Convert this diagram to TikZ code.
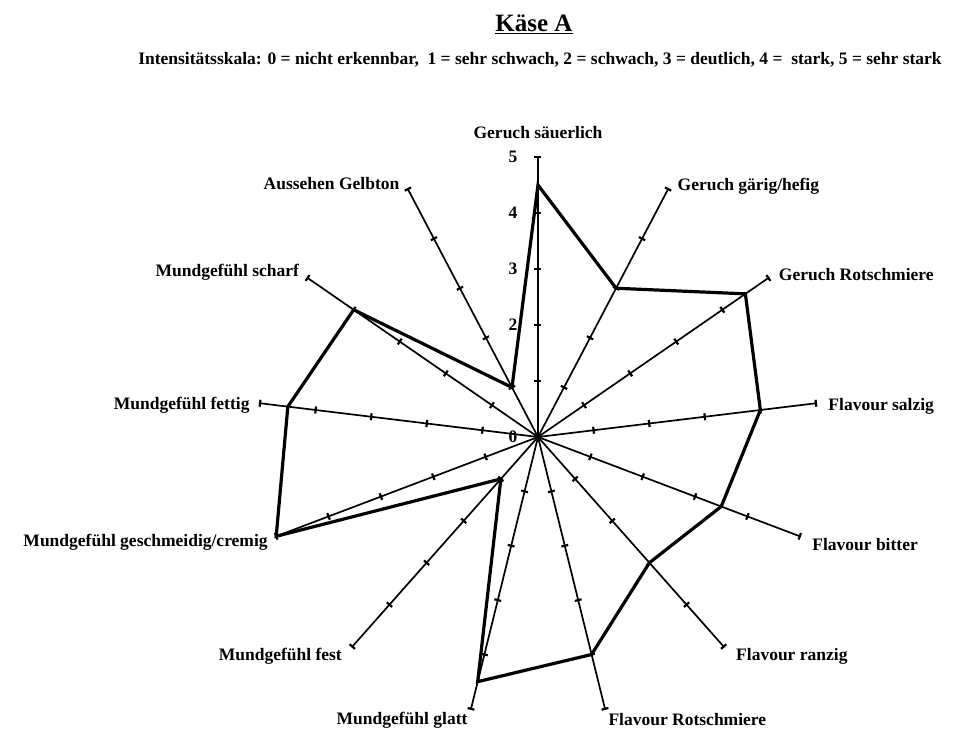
\documentclass[tikz,border=0pt]{standalone}
\usepackage{fontspec}
\setmainfont{Liberation Serif}

\begin{document}
\begin{tikzpicture}[x=1pt,y=1pt,font=\bfseries]
\def\unit{56}
\def\dang{27.6923}
\def\lblfont{\fontsize{17.5}{19}\selectfont\bfseries}
\useasboundingbox (-538,-294) rectangle (415,437);

\node[anchor=base,font=\fontsize{25}{28}\selectfont\bfseries] (title) at (-4,405) {\underline{Käse A}};
\node[anchor=base,font=\fontsize{17.5}{19}\selectfont\bfseries] (scale) at (2,372) {Intensitätsskala: 0 = nicht erkennbar,\ \ 1 = sehr schwach, 2 = schwach, 3 = deutlich, 4 = \ stark, 5 = sehr stark};

% axes with ticks
\coordinate (O) at (0,0);
\foreach \k in {0,...,12}{
  \pgfmathsetmacro\ang{90-\k*\dang}
  \coordinate (a\k) at (\ang:5*\unit);
  \draw[line width=1.7pt] (O) -- (a\k);
  \foreach \t in {1,...,5}
    \draw[line width=2.2pt,rotate=\ang] (\t*\unit,-3.5) -- (\t*\unit,3.5);
}

% scale
\foreach \v in {0,2,3,4,5}
  \node[font=\lblfont] (n\v) at (-25,\v*\unit) {\v};

% profile
\foreach \k/\v in {0/4.5,1/3,2/4.5,3/4,4/3.5,5/3,6/4,7/4.5,8/1,9/5,10/4.5,11/4,12/1}
  \coordinate (p\k) at ({90-\k*\dang}:\v*\unit);
\draw[line width=3.2pt,line join=miter] (p0)--(p1)--(p2)--(p3)--(p4)--(p5)--(p6)--(p7)--(p8)--(p9)--(p10)--(p11)--(p12)--cycle;

% axis labels
\foreach \k/\anc/\dx/\dy/\txt in {0/south/0/15/{Geruch säuerlich},
  1/west/6/3/{Geruch gärig/hefig},
  2/west/7/3/{Geruch Rotschmiere},
  3/west/9/-3/{Flavour salzig},
  4/west/9/-8/{Flavour bitter},
  5/west/9/-10/{Flavour ranzig},
  6/west/0/-11/{Flavour Rotschmiere},
  7/east/0/-11/{Mundgefühl glatt},
  8/east/-7/-10/{Mundgefühl fest},
  9/east/-5/-6/{Mundgefühl geschmeidig/cremig},
  10/east/-7/-2/{Mundgefühl fettig},
  11/east/-5/6/{Mundgefühl scharf},
  12/east/-5/6/{Aussehen Gelbton}}
  \node[anchor=\anc,xshift=\dx pt,yshift=\dy pt,font=\lblfont] (l\k) at (a\k) {\txt};

\end{tikzpicture}
\end{document}
